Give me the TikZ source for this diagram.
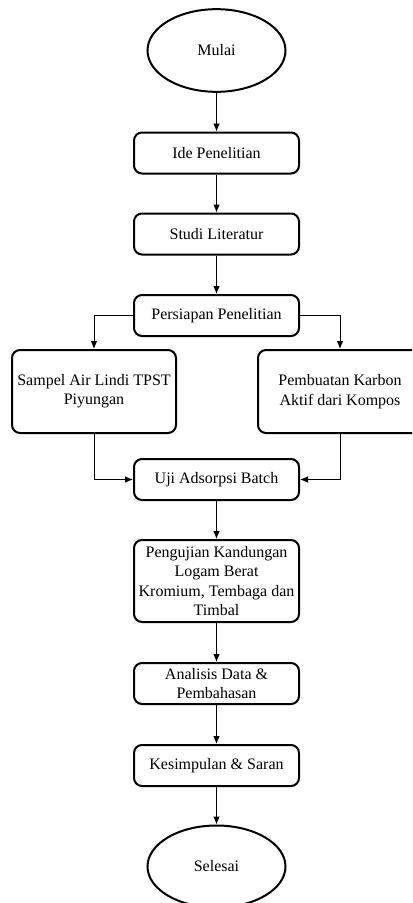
\documentclass[tikz,border=0pt]{standalone}
\usepackage{fontspec}
\setmainfont{Liberation Serif}
\usetikzlibrary{arrows.meta,shapes.geometric}
\begin{document}
\begin{tikzpicture}[x=0.75pt, y=-0.75pt,
    every node/.style={font=\fontsize{12}{14.5}\selectfont, align=center, inner sep=0pt},
    proc/.style={draw, rounded corners=6pt, line width=1.5pt, minimum width=123.75pt, minimum height=30.75pt},
    term/.style={draw, ellipse, line width=1.5pt, minimum width=103.5pt, minimum height=62pt},
    arr/.style={-{Latex[length=6pt,width=5pt]}, line width=0.75pt}]
          \clip (0,0) rectangle (412,903);
          \node [term] (mulai) at (216.5,50.5) {Mulai};
          \node [proc] (ide) at (216.5,153) {Ide Penelitian};
          \node [proc] (studi) at (216.5,234) {Studi Literatur};
          \node [proc] (persiapan) at (216.5,315.5) {Persiapan Penelitian};
          \node [proc, minimum width=123pt, minimum height=62.25pt] (sampel) at (94,391.5) {Sampel Air Lindi TPST\\Piyungan};
          \node [proc, minimum width=123pt, minimum height=62.25pt] (karbon) at (340,391.5) {Pembuatan Karbon\\Aktif dari Kompos};
          \node [proc] (uji) at (216.5,479.5) {Uji Adsorpsi Batch};
          \node [proc, minimum height=61.5pt] (logam) at (216.5,581) {Pengujian Kandungan\\Logam Berat\\Kromium, Tembaga dan\\Timbal};
          \node [proc] (analisis) at (216.5,683.5) {Analisis Data \&\\Pembahasan};
          \node [proc] (saran) at (216.5,765.5) {Kesimpulan \& Saran};
          \node [term, minimum height=61.5pt] (selesai) at (216.5,866.5) {Selesai};
	  \draw[arr] (mulai) -- (ide);
\draw[arr] (ide) -- (studi);
\draw[arr] (studi) -- (persiapan);
\draw[arr] (persiapan.west) -| (sampel.north);
\draw[arr] (persiapan.east) -| (karbon.north);
\draw[arr] (sampel.south) |- (uji.west);
\draw[arr] (karbon.south) |- (uji.east);
\draw[arr] (uji) -- (logam);
\draw[arr] (logam) -- (analisis);
\draw[arr] (analisis) -- (saran);
\draw[arr] (saran) -- (selesai);

        \end{tikzpicture}
\end{document}
